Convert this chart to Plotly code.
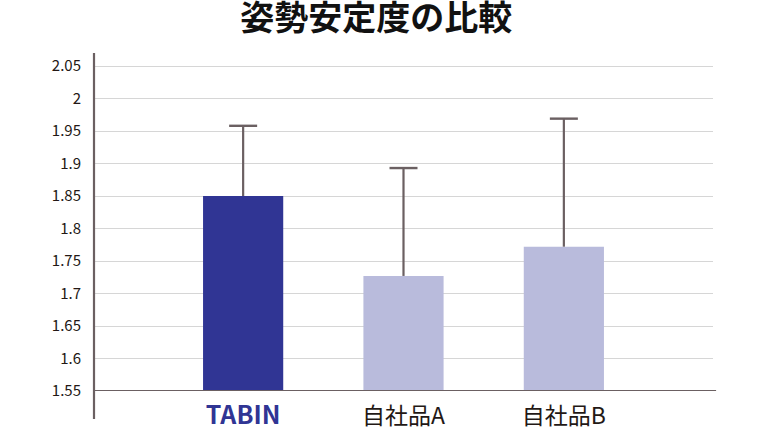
import plotly.graph_objects as go

categories = ["TABIN", "自社品A", "自社品B"]
tick_labels = ["<b><span style='color:#303594;font-size:25px'>TABIN</span></b>", "自社品A", "自社品B"]
means = [1.85, 1.727, 1.772]
err_upper = [0.108, 0.166, 0.197]
bar_colors = ["#303594", "#b9bbdc", "#b9bbdc"]
y_ticks = [1.55, 1.6, 1.65, 1.7, 1.75, 1.8, 1.85, 1.9, 1.95, 2.0, 2.05]
y_tick_text = ["1.55", "1.6", "1.65", "1.7", "1.75", "1.8", "1.85", "1.9", "1.95", "2", "2.05"]

err_color = "#6b6062"
tops = [m + e for m, e in zip(means, err_upper)]

fig = go.Figure()
fig.add_trace(go.Bar(
    x=categories, y=means, base=0,
    marker=dict(color=bar_colors, line=dict(width=0)),
    width=0.5,
    error_y=dict(type="data", symmetric=False, array=err_upper,
                 arrayminus=[0] * len(means), color=err_color,
                 thickness=2.2, width=0),
    hoverinfo="skip",
))
fig.add_trace(go.Scatter(
    x=categories, y=tops, mode="markers",
    marker=dict(symbol="line-ew-open", size=20, color=err_color,
                line=dict(color=err_color, width=2.4)),
    hoverinfo="skip",
))

fig.update_layout(
    width=768, height=428,
    margin=dict(l=94, r=55, t=53, b=37, autoexpand=False),
    plot_bgcolor="white", paper_bgcolor="white",
    showlegend=False,
    font=dict(family="Noto Sans CJK JP", color="#231815"),
    title=dict(text="<b>姿勢安定度の比較</b>", x=0.49, xanchor="center",
               yref="container", y=0.958, yanchor="middle",
               font=dict(size=34, color="#111111", family="Noto Sans CJK JP")),
    xaxis=dict(range=[-0.93, 2.93], tickmode="array", tickvals=categories,
               ticktext=tick_labels, showgrid=False, showline=False,
               ticks="", tickfont=dict(size=23, color="#231815"),
               zeroline=False, automargin=False, ticklabelstandoff=9),
    yaxis=dict(range=[1.55, 2.07], tickmode="array", tickvals=y_ticks,
               ticktext=y_tick_text, showgrid=True, gridcolor="#d6d6d6",
               gridwidth=1.3, showline=False, ticks="", zeroline=False,
               tickfont=dict(size=15, color="#231815"),
               ticklabelstandoff=12, automargin=False),
    shapes=[
        dict(type="line", xref="paper", yref="paper", x0=0, x1=0,
             y0=-28 / 338, y1=1, line=dict(color=err_color, width=2.2)),
        dict(type="line", xref="paper", yref="y", x0=0, x1=1.005,
             y0=1.55, y1=1.55, line=dict(color=err_color, width=2.2)),
    ],
)

fig.write_html("out.html", config={"displayModeBar": False})

with open("out.html", "r", encoding="utf-8") as f:
    html = f.read()
html = html.replace("<head>", "<head><style>html,body{margin:0;padding:0;overflow:hidden}</style>", 1)
with open("out.html", "w", encoding="utf-8") as f:
    f.write(html)
